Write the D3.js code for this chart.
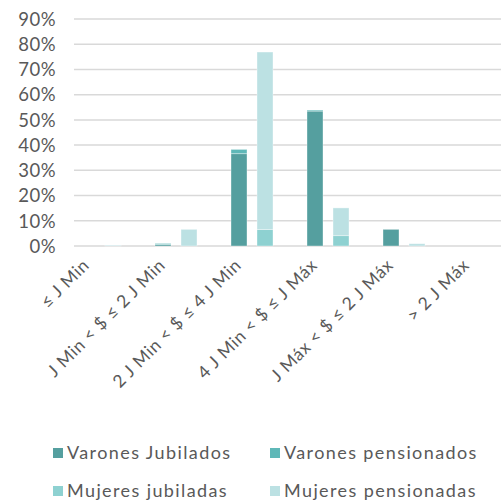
<!DOCTYPE html>
<html>
<head>
<meta charset="utf-8">
<script src="https://cdn.jsdelivr.net/npm/d3@7"></script>
<style>
  html, body { margin: 0; padding: 0; background: #fff; }
  svg { display: block; }
  text { font-family: Lato, "Open Sans", sans-serif; fill: #595959; }
</style>
</head>
<body>
<svg id="chart" width="501" height="502"></svg>
<script>
// Income brackets
const categories = [
  "\u2264 J Min",
  "J Min < $ \u2264 2 J Min",
  "2 J Min < $ \u2264 4 J Min",
  "4 J Min < $ \u2264 J M\u00e1x",
  "J M\u00e1x < $ \u2264 2 J M\u00e1x",
  "> 2 J M\u00e1x"
];
// Share of each group (%)
const varonesJubilados   = [0.0, 0.6, 36.6, 53.5, 6.6, 0.0];
const varonesPensionados = [0.0, 0.4, 1.7, 0.4, 0.0, 0.0];
const mujeresJubiladas   = [0.0, 0.0, 6.5, 4.1, 0.0, 0.0];
const mujeresPensionadas = [0.3, 6.6, 70.4, 11.0, 0.9, 0.0];
const yTicks = [0, 10, 20, 30, 40, 50, 60, 70, 80, 90];

const seriesNames = ["Varones Jubilados", "Varones pensionados", "Mujeres jubiladas", "Mujeres pensionadas"];
const colors = ["#559f9f", "#5fb8b8", "#8ed1d1", "#bce1e3"];

const svg = d3.select("#chart");
const plotLeft = 74, plotTop = 19, plotBottom = 246;

const x = d3.scaleBand().domain(categories).range([plotLeft, plotLeft + 76 * categories.length]).paddingInner(0).paddingOuter(0);
const y = d3.scaleLinear().domain([0, 90]).range([plotBottom, plotTop]);

// Gridlines
svg.append("g")
  .selectAll("line")
  .data(yTicks)
  .join("line")
  .attr("x1", plotLeft).attr("x2", 501)
  .attr("y1", d => y(d)).attr("y2", d => y(d))
  .attr("stroke", "#d9d9d9").attr("stroke-width", 1.5);

// Y axis labels
const yAxis = d3.axisLeft(y).tickValues(yTicks).tickFormat(d => d + "%").tickSize(0).tickPadding(0);
const yg = svg.append("g").attr("transform", "translate(56,0)").call(yAxis);
yg.select(".domain").remove();
yg.selectAll("text").style("font-size", "18.5px").attr("fill", "#595959")
  .style("font-family", "Lato, 'Open Sans', sans-serif").style("letter-spacing", "0.5px").attr("dy", "0.34em");

// Stacked columns: one stack for men, one for women
const groups = [
  { offset: 5,  parts: [[varonesJubilados, 0], [varonesPensionados, 1]] },
  { offset: 31, parts: [[mujeresJubiladas, 2], [mujeresPensionadas, 3]] }
];
const barW = 16;
const bars = svg.append("g");
categories.forEach((c, i) => {
  groups.forEach(g => {
    let base = 0;
    g.parts.forEach(([arr, si]) => {
      const v = arr[i];
      if (v > 0) {
        bars.append("rect")
          .attr("x", x(c) + g.offset)
          .attr("width", barW)
          .attr("y", y(base + v))
          .attr("height", y(base) - y(base + v))
          .attr("fill", colors[si])
          .attr("stroke", "rgba(255,255,255,0.45)")
          .attr("stroke-width", 0.8);
      }
      base += v;
    });
  });
});

// Category labels, rotated
const xg = svg.append("g");
categories.forEach((c, i) => {
  const cx = x(c) + 12;
  xg.append("text")
    .attr("transform", `translate(${cx},${plotBottom + 16}) rotate(-45)`)
    .attr("text-anchor", "end")
    .attr("dy", "0.35em")
    .style("font-size", "17.5px")
    .style("letter-spacing", "0.6px")
    .text(c);
});

// Legend
const legendItems = [
  { name: seriesNames[0], c: colors[0], lx: 53, ly: 453 },
  { name: seriesNames[1], c: colors[1], lx: 270, ly: 453 },
  { name: seriesNames[2], c: colors[2], lx: 53, ly: 491 },
  { name: seriesNames[3], c: colors[3], lx: 270, ly: 491 }
];
const lg = svg.append("g");
legendItems.forEach(d => {
  lg.append("rect").attr("x", d.lx).attr("y", d.ly - 5).attr("width", 10).attr("height", 10).attr("fill", d.c);
  lg.append("text").attr("x", d.lx + 14).attr("y", d.ly).attr("dy", "0.35em")
    .style("font-size", "18px").style("letter-spacing", "1.4px").text(d.name);
});
</script>
</body>
</html>
